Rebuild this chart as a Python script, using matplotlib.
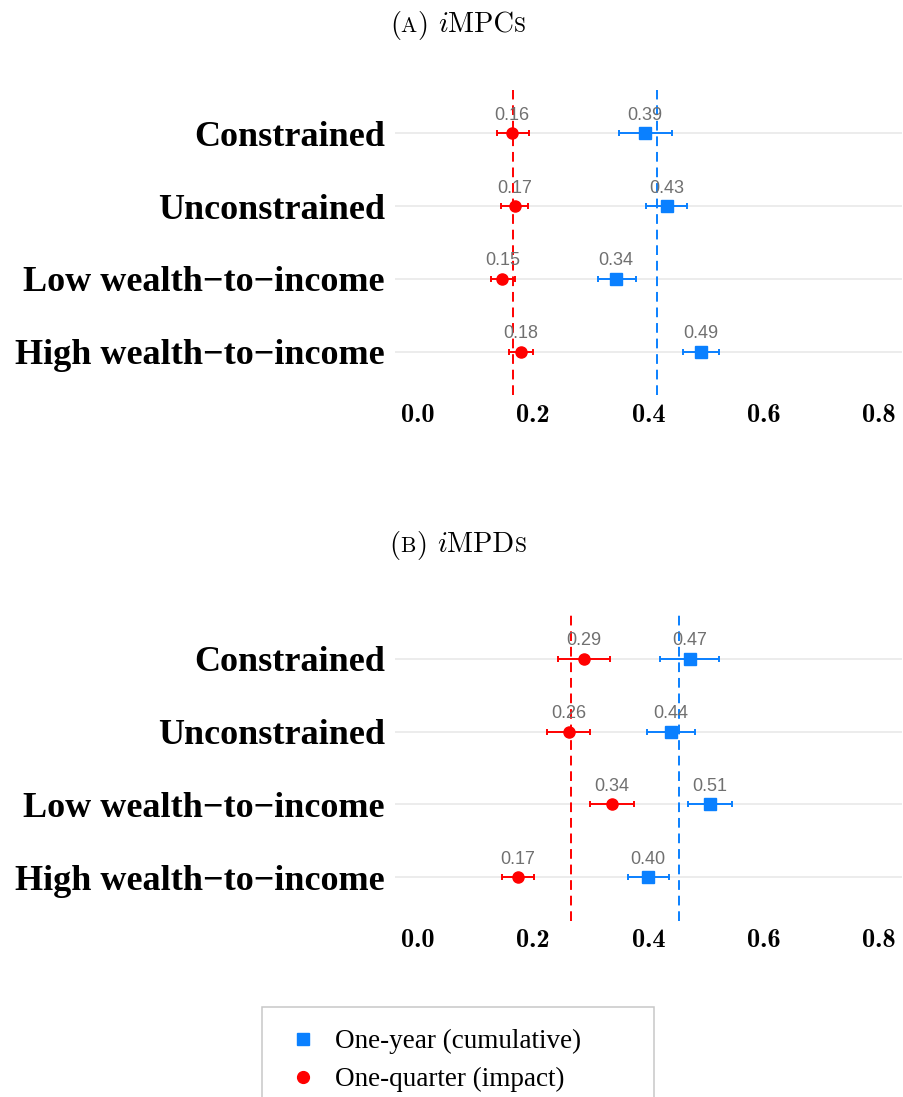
import matplotlib
matplotlib.use("Agg")
import matplotlib.pyplot as plt
import numpy as np
from matplotlib.lines import Line2D
from matplotlib.offsetbox import TextArea, HPacker, AnchoredOffsetbox

plt.rcParams["mathtext.fontset"] = "cm"

# data
rows = ["Constrained", "Unconstrained", "Low wealth\u2212to\u2212income", "High wealth\u2212to\u2212income"]

mpc_quarter = np.array([0.164, 0.168, 0.147, 0.179])
mpc_quarter_lo = np.array([0.137, 0.144, 0.127, 0.158])
mpc_quarter_hi = np.array([0.193, 0.191, 0.169, 0.200])
mpc_year = np.array([0.394, 0.432, 0.344, 0.491])
mpc_year_lo = np.array([0.349, 0.396, 0.312, 0.459])
mpc_year_hi = np.array([0.441, 0.467, 0.378, 0.522])
mpc_avg_quarter = 0.166
mpc_avg_year = 0.415

mpd_quarter = np.array([0.288, 0.262, 0.337, 0.174])
mpd_quarter_lo = np.array([0.243, 0.224, 0.299, 0.147])
mpd_quarter_hi = np.array([0.334, 0.299, 0.375, 0.202])
mpd_year = np.array([0.472, 0.439, 0.507, 0.399])
mpd_year_lo = np.array([0.420, 0.397, 0.469, 0.364])
mpd_year_hi = np.array([0.522, 0.481, 0.545, 0.435])
mpd_avg_quarter = 0.265
mpd_avg_year = 0.453

xticks = [0.0, 0.2, 0.4, 0.6, 0.8]
xtick_labels = ["0.0", "0.2", "0.4", "0.6", "0.8"]

red = "#FF0000"
blue = "#0A80FF"

fig = plt.figure(figsize=(9.04, 10.97), dpi=100)


def panel(ax, q, qlo, qhi, yr, ylo, yhi, avg_q, avg_y):
    pos = np.arange(len(rows))
    ax.axvline(avg_q, color=red, ls=(0, (5, 3)), lw=1.4, zorder=2)
    ax.axvline(avg_y, color=blue, ls=(0, (5, 3)), lw=1.4, zorder=2)
    ax.errorbar(yr, pos, xerr=[yr - ylo, yhi - yr], fmt="s", color=blue, ms=8,
                elinewidth=1.4, capsize=2.2, capthick=1.4, zorder=3)
    ax.errorbar(q, pos, xerr=[q - qlo, qhi - q], fmt="o", color=red, ms=8,
                elinewidth=1.4, capsize=2.2, capthick=1.4, zorder=3)
    for vals in (q, yr):
        for v, p in zip(vals, pos):
            ax.annotate(f"{v:.2f}", (v, p), xytext=(0, 9.7), textcoords="offset points",
                        ha="center", va="baseline", fontsize=13, color="#707070",
                        family="Liberation Sans", zorder=4)
    ax.set_xlim(-0.04, 0.84)
    ax.set_ylim(3.6, -0.6)
    ax.set_yticks(pos)
    ax.set_yticklabels(rows, family="Liberation Serif", weight="bold", fontsize=26)
    ax.set_xticks(xticks)
    ax.set_xticklabels(xtick_labels, family="cmb10", fontsize=19)
    ax.tick_params(length=0)
    ax.tick_params(axis="y", pad=7)
    ax.tick_params(axis="x", pad=6)
    for s in ax.spines.values():
        s.set_visible(False)
    ax.grid(axis="y", color="#ebebeb", lw=1.3)
    ax.set_axisbelow(True)


ax1 = fig.add_axes([0.4365, 0.6396, 0.5617, 0.2788])
panel(ax1, mpc_quarter, mpc_quarter_lo, mpc_quarter_hi,
      mpc_year, mpc_year_lo, mpc_year_hi, mpc_avg_quarter, mpc_avg_year)

ax2 = fig.add_axes([0.4365, 0.1607, 0.5617, 0.2784])
panel(ax2, mpd_quarter, mpd_quarter_lo, mpd_quarter_hi,
      mpd_year, mpd_year_lo, mpd_year_hi, mpd_avg_quarter, mpd_avg_year)


# subfigure captions in small caps
def caption(letter, name, tail, yfrac):
    big = dict(family="cmr10", fontsize=20.5)
    small = dict(family="cmr10", fontsize=15.5)
    left = HPacker(children=[TextArea("(", textprops=big), TextArea(letter, textprops=small),
                             TextArea(")", textprops=big)], sep=0, pad=0, align="baseline")
    right = HPacker(children=[TextArea("$i$", textprops=dict(fontsize=20.5)), TextArea(name, textprops=big),
                              TextArea(tail, textprops=small)], sep=0, pad=0, align="baseline")
    box = HPacker(children=[left, right], sep=7, pad=0, align="baseline")
    anch = AnchoredOffsetbox(loc="center", child=box, frameon=False, pad=0, borderpad=0,
                             bbox_to_anchor=(458 / 904, yfrac), bbox_transform=fig.transFigure)
    fig.add_artist(anch)


caption("A", "MPC", "S", 1 - 25 / 1097)
caption("B", "MPD", "S", 1 - 545 / 1097)

handles = [Line2D([], [], ls="none", marker="s", color=blue, ms=8.5),
           Line2D([], [], ls="none", marker="o", color=red, ms=8.5)]
labels = ["One-year (cumulative)", "One-quarter (impact)"]
leg = fig.legend(handles, labels, loc="upper left",
                 bbox_to_anchor=(262 / 904, 1 - 1008 / 1097, 392 / 904, 0.001),
                 mode="expand", fancybox=False, framealpha=1, edgecolor="#c8c8c8",
                 prop=dict(family="Liberation Serif", size=19.5),
                 borderpad=0.81, labelspacing=0.48, handlelength=1.41, handletextpad=0.48,
                 borderaxespad=0)
leg.get_frame().set_linewidth(1.1)

fig.savefig("out.png", dpi=100)
